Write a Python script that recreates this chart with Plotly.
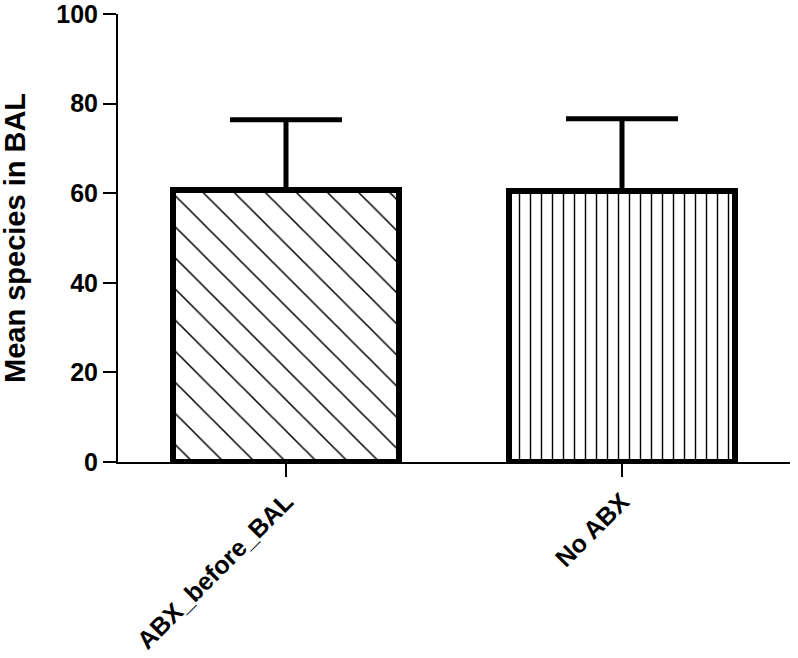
import plotly.graph_objects as go

categories = ["ABX_before_BAL", "No ABX"]
means = [60.7, 60.6]
errors_up = [15.7, 16.0]
patterns = ["\\", "|"]
pattern_sizes = [22, 11]
pattern_solidity = [0.07, 0.13]
y_ticks = [0, 20, 40, 60, 80, 100]
y_title = "Mean species in BAL"

FONT = "Liberation Sans, Arial, sans-serif"

fig = go.Figure()
for i, cat in enumerate(categories):
    fig.add_trace(go.Bar(
        x=[cat], y=[means[i]],
        width=0.67,
        marker=dict(
            color="white",
            line=dict(color="black", width=6),
            pattern=dict(shape=patterns[i], size=pattern_sizes[i],
                         solidity=pattern_solidity[i], fgcolor="black",
                         bgcolor="white", fillmode="replace"),
        ),
        error_y=dict(type="data", symmetric=False, array=[errors_up[i]],
                     arrayminus=[0], color="black", thickness=5, width=56),
        showlegend=False,
    ))

fig.update_layout(
    width=798, height=658,
    margin=dict(l=118, r=8, t=14, b=196),
    paper_bgcolor="white", plot_bgcolor="white",
    font=dict(family=FONT, color="black"),
    bargap=0,
)
fig.update_xaxes(
    range=[-0.5, 1.5], automargin=False,
    showline=True, linecolor="black", linewidth=2,
    ticks="outside", ticklen=13, tickwidth=1.5, tickcolor="black",
    tickangle=-45,
    tickfont=dict(family=FONT, size=25, color="black", weight="bold"),
    showgrid=False, zeroline=False,
)
fig.update_yaxes(
    range=[0, 100], tickvals=y_ticks, automargin=False,
    ticklabeloverflow="allow",
    showline=True, linecolor="black", linewidth=2,
    ticks="outside", ticklen=13, tickwidth=1.5, tickcolor="black",
    tickfont=dict(family=FONT, size=25, color="black", weight="bold"),
    showgrid=False, zeroline=False,
)
fig.add_annotation(
    text=y_title, xref="paper", yref="paper", x=0, y=0.5,
    xanchor="center", yanchor="middle", textangle=-90,
    xshift=-103, showarrow=False,
    font=dict(family=FONT, size=29, color="black", weight="bold"),
)

fig.write_html(
    "out.html",
    config={"displayModeBar": False},
    post_script="document.body.style.margin='0';document.body.style.overflow='hidden';",
)
